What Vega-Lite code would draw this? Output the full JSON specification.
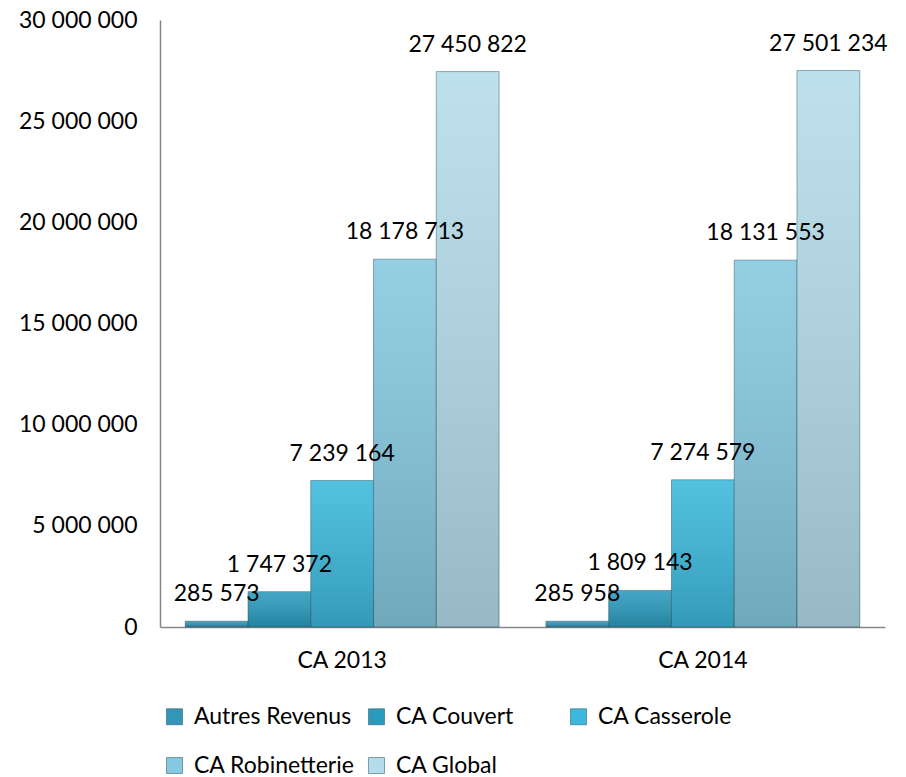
{
  "$schema": "https://vega.github.io/schema/vega-lite/v6.json",
  "width": 725,
  "height": 607,
  "autosize": {"type": "none"},
  "padding": {"left": 160, "top": 20, "right": 21, "bottom": 150},
  "background": "white",
  "config": {
    "locale": {"number": {"decimal": ",", "thousands": " ", "grouping": [3], "currency": ["", " €"]}},
    "font": "Lato",
    "view": {"stroke": null},
    "axis": {"labelFont": "Lato", "labelFontSize": 23, "labelColor": "#000000", "domainColor": "#868686", "domainWidth": 1.5, "ticks": false, "grid": false, "title": null}
  },
  "data": {
    "values": [
      {"annee": "CA 2013", "serie": "Autres Revenus", "valeur": 285573},
      {"annee": "CA 2013", "serie": "CA Couvert", "valeur": 1747372},
      {"annee": "CA 2013", "serie": "CA Casserole", "valeur": 7239164},
      {"annee": "CA 2013", "serie": "CA Robinetterie", "valeur": 18178713},
      {"annee": "CA 2013", "serie": "CA Global", "valeur": 27450822},
      {"annee": "CA 2014", "serie": "Autres Revenus", "valeur": 285958},
      {"annee": "CA 2014", "serie": "CA Couvert", "valeur": 1809143},
      {"annee": "CA 2014", "serie": "CA Casserole", "valeur": 7274579},
      {"annee": "CA 2014", "serie": "CA Robinetterie", "valeur": 18131553},
      {"annee": "CA 2014", "serie": "CA Global", "valeur": 27501234}
    ]
  },
  "encoding": {
    "x": {"field": "annee", "type": "nominal", "scale": {"paddingInner": 0.13, "paddingOuter": 0.07}, "axis": {"labelAngle": 0, "labelPadding": 22}},
    "xOffset": {"field": "serie", "type": "nominal", "sort": ["Autres Revenus", "CA Couvert", "CA Casserole", "CA Robinetterie", "CA Global"], "scale": {"paddingInner": 0, "paddingOuter": 0}},
    "y": {"field": "valeur", "type": "quantitative", "scale": {"domain": [0, 30000000], "nice": false}, "axis": {"values": [0, 5000000, 10000000, 15000000, 20000000, 25000000, 30000000], "format": ",d", "labelPadding": 23}}
  },
  "layer": [
    {
      "mark": {"type": "bar", "stroke": "#1e4f5c", "strokeWidth": 0.8, "strokeOpacity": 0.6},
      "encoding": {
        "color": {
          "field": "serie", "type": "nominal",
          "scale": {"domain": ["Autres Revenus", "CA Couvert", "CA Casserole", "CA Robinetterie", "CA Global"], "range": ["#3496b6", "#2b9bbd", "#3bb8db", "#85c8e0", "#b4dcea"]},
          "legend": {"orient": "none", "legendX": 3, "legendY": 685, "direction": "horizontal", "columns": 3, "gridAlign": "all", "title": null, "symbolType": "square", "symbolSize": 256, "symbolStrokeColor": "#1e4f5c", "symbolStrokeWidth": 0.5, "labelFont": "Lato", "labelFontSize": 23, "labelColor": "#000000", "labelOffset": 8, "labelLimit": 400, "columnPadding": 10, "rowPadding": 25}
        }
      }
    },
    {
      "mark": {"type": "bar", "fill": {"gradient": "linear", "x1": 0, "y1": 0, "x2": 0, "y2": 1, "stops": [{"offset": 0, "color": "rgba(255,255,255,0.12)"}, {"offset": 1, "color": "rgba(0,0,0,0.16)"}]}},
      "encoding": {}
    },
    {
      "mark": {"type": "text", "fontSize": 23, "dy": -20, "baseline": "alphabetic", "color": "#000000", "font": "Lato"},
      "encoding": {"text": {"field": "valeur", "type": "quantitative", "format": ",d"}}
    }
  ]
}
